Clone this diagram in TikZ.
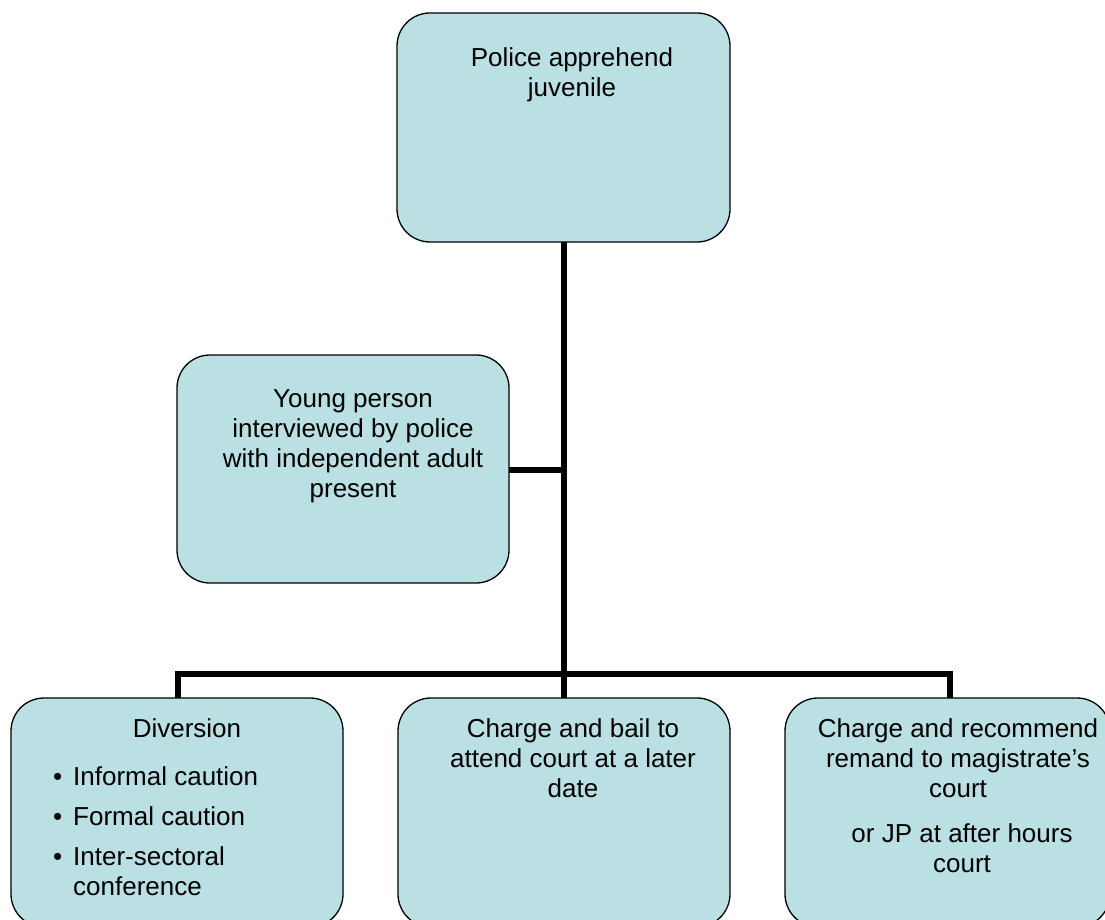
\documentclass[tikz,border=0pt]{standalone}
\usepackage{fontspec}
\setmainfont{Liberation Sans}
\definecolor{boxfill}{RGB}{187,224,227}
\newcommand{\mybul}{\makebox[21pt][l]{\hspace*{1pt}\textbullet}}
\begin{document}
\begin{tikzpicture}[x=1pt,y=-1pt,
  flowbox/.style={draw=black,line width=1.3pt,fill=boxfill,rounded corners=33pt,
    rectangle,anchor=north west,inner sep=0pt,outer sep=0pt},
  lbl/.style={font=\fontsize{26}{30}\selectfont,align=center,inner sep=0pt,anchor=base},
  conn/.style={line width=6pt,black}]
\useasboundingbox (0,0) rectangle (1105,920);
\clip (0,0) rectangle (1105,920);
% boxes
\node[flowbox,minimum width=333pt,minimum height=229pt] (top) at (397,13) {};
\node[flowbox,minimum width=332pt,minimum height=228pt] (mid) at (177,355) {};
\node[flowbox,minimum width=332pt,minimum height=229pt] (bl) at (11,698) {};
\node[flowbox,minimum width=332pt,minimum height=229pt] (bm) at (398,698) {};
\node[flowbox,minimum width=325pt,minimum height=229pt] (br) at (785,698) {};
% connectors
\coordinate (jmid) at (564,470);
\coordinate (jbot) at (564,674);
\coordinate (jl) at (178,674);
\coordinate (jr) at (950,674);
\draw[conn] (top.south -| jmid) -- (jbot);
\draw[conn] (mid.east |- jmid) -- (jmid);
\draw[conn,line cap=rect] (jl) -- (jr);
\draw[conn] (jl) -- (jl |- bl.north);
\draw[conn] (jbot) -- (jbot |- bm.north);
\draw[conn] (jr) -- (jr |- br.north);
% texts (anchor base = baseline of last line)
\node[lbl] (ttop) at (572,97) {Police apprehend\\juvenile};
\node[lbl] (tmid) at (353,497) {Young person\\interviewed by police\\with independent adult\\present};
\node[lbl] (tbl) at (187,737) {Diversion};
\node[lbl,anchor=base west,align=left] (tbl1) at (52,785) {\mybul Informal caution};
\node[lbl,anchor=base west,align=left] (tbl2) at (52,825) {\mybul Formal caution};
\node[lbl,anchor=base west,align=left] (tbl3) at (52,865) {\mybul Inter-sectoral};
\node[lbl,anchor=base west,align=left] (tbl4) at (73,895) {conference};
\node[lbl] (tbm) at (573,797) {Charge and bail to\\attend court at a later\\date};
\node[lbl] (tbr) at (958,797) {Charge and recommend\\remand to magistrate’s\\court};
\node[lbl] (tbr2) at (962,872) {or JP at after hours\\court};
\end{tikzpicture}
\end{document}
